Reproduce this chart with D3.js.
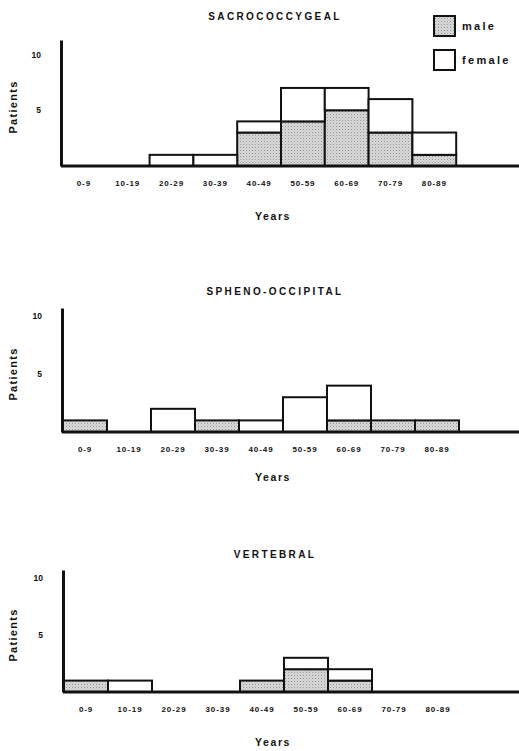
<!DOCTYPE html>
<html>
<head>
<meta charset="utf-8">
<script src="https://cdn.jsdelivr.net/npm/d3@7"></script>
<style>
  body { margin: 0; background: #fff; }
  text { font-family: "Liberation Sans", Arial, sans-serif; font-weight: bold; fill: #111; }
</style>
</head>
<body>
<script>
//age groups on the x axis
var ageGroups = ["0-9", "10-19", "20-29", "30-39", "40-49", "50-59", "60-69", "70-79", "80-89"];
//patients per age group
var sacroMale = [0, 0, 0, 0, 3, 4, 5, 3, 1];
var sacroFemale = [0, 0, 1, 1, 1, 3, 2, 3, 2];
var sphenoMale = [1, 0, 0, 1, 0, 0, 1, 1, 1];
var sphenoFemale = [0, 0, 2, 0, 1, 3, 3, 0, 0];
var vertMale = [1, 0, 0, 0, 1, 2, 1, 0, 0];
var vertFemale = [0, 1, 0, 0, 0, 1, 1, 0, 0];
var yTicks = [5, 10];
var titles = ["SACROCOCCYGEAL", "SPHENO-OCCIPITAL", "VERTEBRAL"];
var legendLabels = ["male", "female"];

//screen
var widthScr = 519;
var heightScr = 751;
var shade = "url(#stipple)";

//layout of each panel
var panels = [
    { title: titles[0], male: sacroMale, female: sacroFemale, axisX: 61, top: 40, base: 166, yMax: 11.3, titleY: 20, barX: 62, barW: 43.8, yearsY: 220 },
    { title: titles[1], male: sphenoMale, female: sphenoFemale, axisX: 62, top: 308, base: 432, yMax: 10.7, titleY: 295, barX: 63, barW: 44.0, yearsY: 481 },
    { title: titles[2], male: vertMale, female: vertFemale, axisX: 63, top: 570, base: 692, yMax: 10.7, titleY: 558, barX: 64, barW: 44.0, yearsY: 746 }
];

var canvas = d3.select("body").append("svg")
    .attr("width", widthScr)
    .attr("height", heightScr);

//stipple pattern for male bars
var pat = canvas.append("defs").append("pattern")
    .attr("id", "stipple")
    .attr("width", 3)
    .attr("height", 3)
    .attr("patternUnits", "userSpaceOnUse");
pat.append("rect").attr("width", 3).attr("height", 3).attr("fill", "#dadada");
pat.append("rect").attr("x", 0).attr("y", 0).attr("width", 1).attr("height", 1).attr("fill", "#909090");
pat.append("rect").attr("x", 1.5).attr("y", 1.5).attr("width", 1).attr("height", 1).attr("fill", "#b0b0b0");

panels.forEach(drawPanel);
drawLegend();

function drawPanel(p) {
    var g = canvas.append("g");

    var x = d3.scaleBand()
        .domain(ageGroups)
        .range([p.barX, p.barX + p.barW * ageGroups.length])
        .padding(0);

    var y = d3.scaleLinear()
        .domain([0, p.yMax])
        .range([p.base, p.top]);

    //stack male under female
    var rows = ageGroups.map(function(a, i) {
        return { age: a, male: p.male[i], female: p.female[i] };
    });
    var series = d3.stack().keys(["male", "female"])(rows);

    series.forEach(function(s) {
        g.append("g").selectAll("rect")
            .data(s.filter(function(d) { return d[1] > d[0]; }))
            .enter().append("rect")
            .attr("x", function(d) { return x(d.data.age); })
            .attr("y", function(d) { return y(d[1]); })
            .attr("width", x.bandwidth())
            .attr("height", function(d) { return y(d[0]) - y(d[1]); })
            .attr("fill", s.key === "male" ? shade : "#fff")
            .attr("stroke", "#111")
            .attr("stroke-width", 2);
    });

    //baseline to the right edge
    g.append("line")
        .attr("x1", p.axisX)
        .attr("x2", widthScr)
        .attr("y1", p.base)
        .attr("y2", p.base)
        .attr("stroke", "#111")
        .attr("stroke-width", 3);

    //y axis
    var yAxis = g.append("g")
        .attr("transform", "translate(" + p.axisX + ",0)")
        .call(d3.axisLeft(y).tickValues(yTicks).tickSize(0).tickPadding(20));
    yAxis.select(".domain").attr("stroke", "#111").attr("stroke-width", 3);
    yAxis.selectAll("text").attr("font-size", 8.5).attr("font-family", null);

    //x axis labels
    var xAxis = g.append("g")
        .attr("transform", "translate(0," + p.base + ")")
        .call(d3.axisBottom(x).tickSize(0).tickPadding(14));
    xAxis.select(".domain").remove();
    xAxis.selectAll("text").attr("font-size", 8).attr("font-family", null).attr("letter-spacing", 0.9);

    //titles
    g.append("text")
        .attr("x", 275)
        .attr("y", p.titleY)
        .attr("text-anchor", "middle")
        .attr("font-size", 10)
        .attr("letter-spacing", 2.4)
        .text(p.title);

    g.append("text")
        .attr("x", 273)
        .attr("y", p.yearsY)
        .attr("text-anchor", "middle")
        .attr("font-size", 10.5)
        .attr("letter-spacing", 1.6)
        .text("Years");

    g.append("text")
        .attr("transform", "translate(17," + ((p.top + p.base) / 2 + 4) + ") rotate(-90)")
        .attr("text-anchor", "middle")
        .attr("font-size", 11)
        .attr("letter-spacing", 1.3)
        .text("Patients");
}

//legend in the top right
function drawLegend() {
    var lg = canvas.append("g");
    var fills = [shade, "#fff"];
    var ys = [16, 50];
    legendLabels.forEach(function(l, i) {
        lg.append("rect")
            .attr("x", 434)
            .attr("y", ys[i])
            .attr("width", 21)
            .attr("height", 20)
            .attr("fill", fills[i])
            .attr("stroke", "#111")
            .attr("stroke-width", 2);
        lg.append("text")
            .attr("x", 462)
            .attr("y", ys[i] + 14)
            .attr("font-size", 11)
            .attr("letter-spacing", 2.3)
            .text(l);
    });
}
</script>
</body>
</html>
